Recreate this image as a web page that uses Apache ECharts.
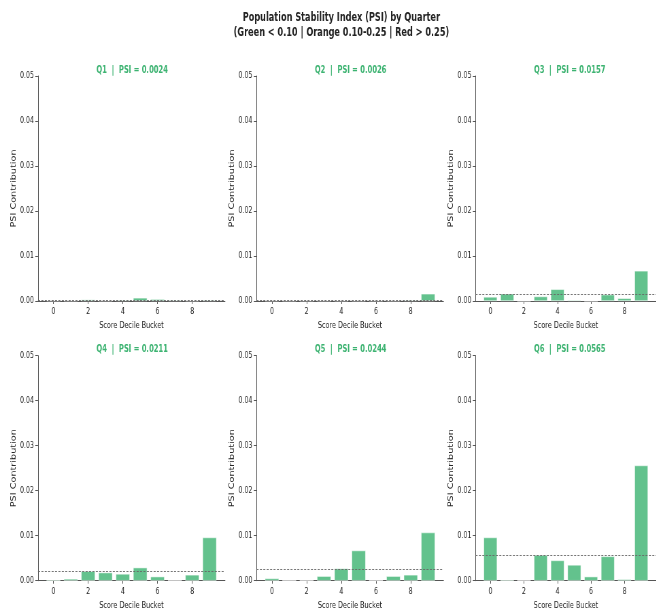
<!DOCTYPE html>
<html>
<head>
<meta charset="utf-8">
<script src="https://cdn.jsdelivr.net/npm/echarts@6/dist/echarts.min.js"></script>
<style>
html,body{margin:0;padding:0;background:#fff;overflow:hidden}
#c{width:965px;height:613px;transform:scaleX(0.68);transform-origin:0 0}
</style>
</head>
<body>
<div id="c"></div>
<script>
var quarters = ['Q1', 'Q2', 'Q3', 'Q4', 'Q5', 'Q6'];
var psiTotals = [0.0024, 0.0026, 0.0157, 0.0211, 0.0244, 0.0565];
var buckets = [0, 1, 2, 3, 4, 5, 6, 7, 8, 9];
var q1 = [0.0001, 0.0001, 0.0003, 0.0001, 0.0002, 0.0007, 0.0004, 0.0002, 0.0001, 0.0002];
var q2 = [0.0001, 0.0001, 0.0001, 0.0001, 0.0001, 0.0001, 0.0001, 0.0001, 0.0002, 0.0016];
var q3 = [0.0009, 0.0016, 0.0000, 0.0010, 0.0026, 0.0002, 0.0000, 0.0014, 0.0006, 0.0067];
var q4 = [0.0002, 0.0004, 0.0021, 0.0018, 0.0015, 0.0029, 0.0009, 0.0000, 0.0013, 0.0096];
var q5 = [0.0005, 0.0000, 0.0000, 0.0010, 0.0027, 0.0067, 0.0000, 0.0010, 0.0013, 0.0107];
var q6 = [0.0096, 0.0002, 0.0000, 0.0057, 0.0045, 0.0035, 0.0009, 0.0054, 0.0003, 0.0256];
var xTicks = [0, 2, 4, 6, 8];
var mainTitle = 'Population Stability Index (PSI) by Quarter\n(Green < 0.10 | Orange 0.10-0.25 | Red > 0.25)';

var series = [q1, q2, q3, q4, q5, q6];
var font = "'DejaVu Sans', sans-serif";
var S = 0.68; // horizontal squeeze applied by CSS
var lefts = [38 / S, 256.5 / S, 475.5 / S];
var tops = [76, 355.7];
var W = 187 / S, H = 225;
var green = '#3cb371';
var axisColor = '#555';
var textColor = '#262626';

var grids = [], xAxes = [], yAxes = [], seriesOpts = [], titles = [];
titles.push({
  text: mainTitle,
  left: 338 / S, top: 5, textAlign: 'center',
  textStyle: {fontFamily: font, fontSize: 12, fontWeight: 'bold', color: '#222', lineHeight: 15}
});
for (var k = 0; k < 6; k++) {
  var r = Math.floor(k / 3), c = k % 3;
  grids.push({left: lefts[c], top: tops[r], width: W, height: H, containLabel: false});
  titles.push({
    text: quarters[k] + '  |  PSI = ' + psiTotals[k].toFixed(4),
    left: lefts[c] + W / 2 - 4, top: tops[r] - 16, textAlign: 'center',
    textStyle: {fontFamily: font, fontSize: 10, fontWeight: 'bold', color: green}
  });
  xAxes.push({
    type: 'value', gridIndex: k, min: -0.89, max: 9.89,
    name: 'Score Decile Bucket', nameLocation: 'middle', nameGap: 20,
    nameTextStyle: {fontFamily: font, fontSize: 9.5, color: textColor},
    splitLine: {show: false},
    axisLine: {show: true, onZero: false, lineStyle: {color: axisColor, width: 1}},
    axisTick: {show: true, customValues: xTicks, length: 3, lineStyle: {color: axisColor}},
    axisLabel: {customValues: xTicks, fontFamily: font, fontSize: 9.2, color: textColor, margin: 6}
  });
  yAxes.push({
    type: 'value', gridIndex: k, min: 0, max: 0.05, interval: 0.01,
    name: 'PSI Contribution', nameLocation: 'middle', nameGap: 28, nameRotate: 90,
    nameTextStyle: {fontFamily: font, fontSize: 9.7, color: textColor},
    splitLine: {show: false},
    axisLine: {show: true, onZero: false, lineStyle: {color: axisColor, width: 1}},
    axisTick: {show: true, length: 4, lineStyle: {color: axisColor}},
    axisLabel: {fontFamily: font, fontSize: 9.2, color: textColor, margin: 6,
      formatter: function (v) { return v.toFixed(2); }}
  });
  var data = buckets.map(function (b, i) { return [b, series[k][i]]; });
  seriesOpts.push({
    type: 'bar', xAxisIndex: k, yAxisIndex: k, data: data, barWidth: '80%',
    itemStyle: {color: 'rgba(60,179,113,0.8)', borderColor: '#fff', borderWidth: 0.5},
    markLine: {
      silent: true, symbol: 'none', precision: 6, label: {show: false},
      lineStyle: {type: [3, 2], color: '#666', width: 0.9},
      data: [{yAxis: psiTotals[k] / 10}]
    }
  });
}

var chart = echarts.init(document.getElementById('c'), null, {renderer: 'canvas'});
chart.setOption({
  animation: false,
  backgroundColor: '#fff',
  title: titles,
  grid: grids,
  xAxis: xAxes,
  yAxis: yAxes,
  series: seriesOpts
});
</script>
</body>
</html>
